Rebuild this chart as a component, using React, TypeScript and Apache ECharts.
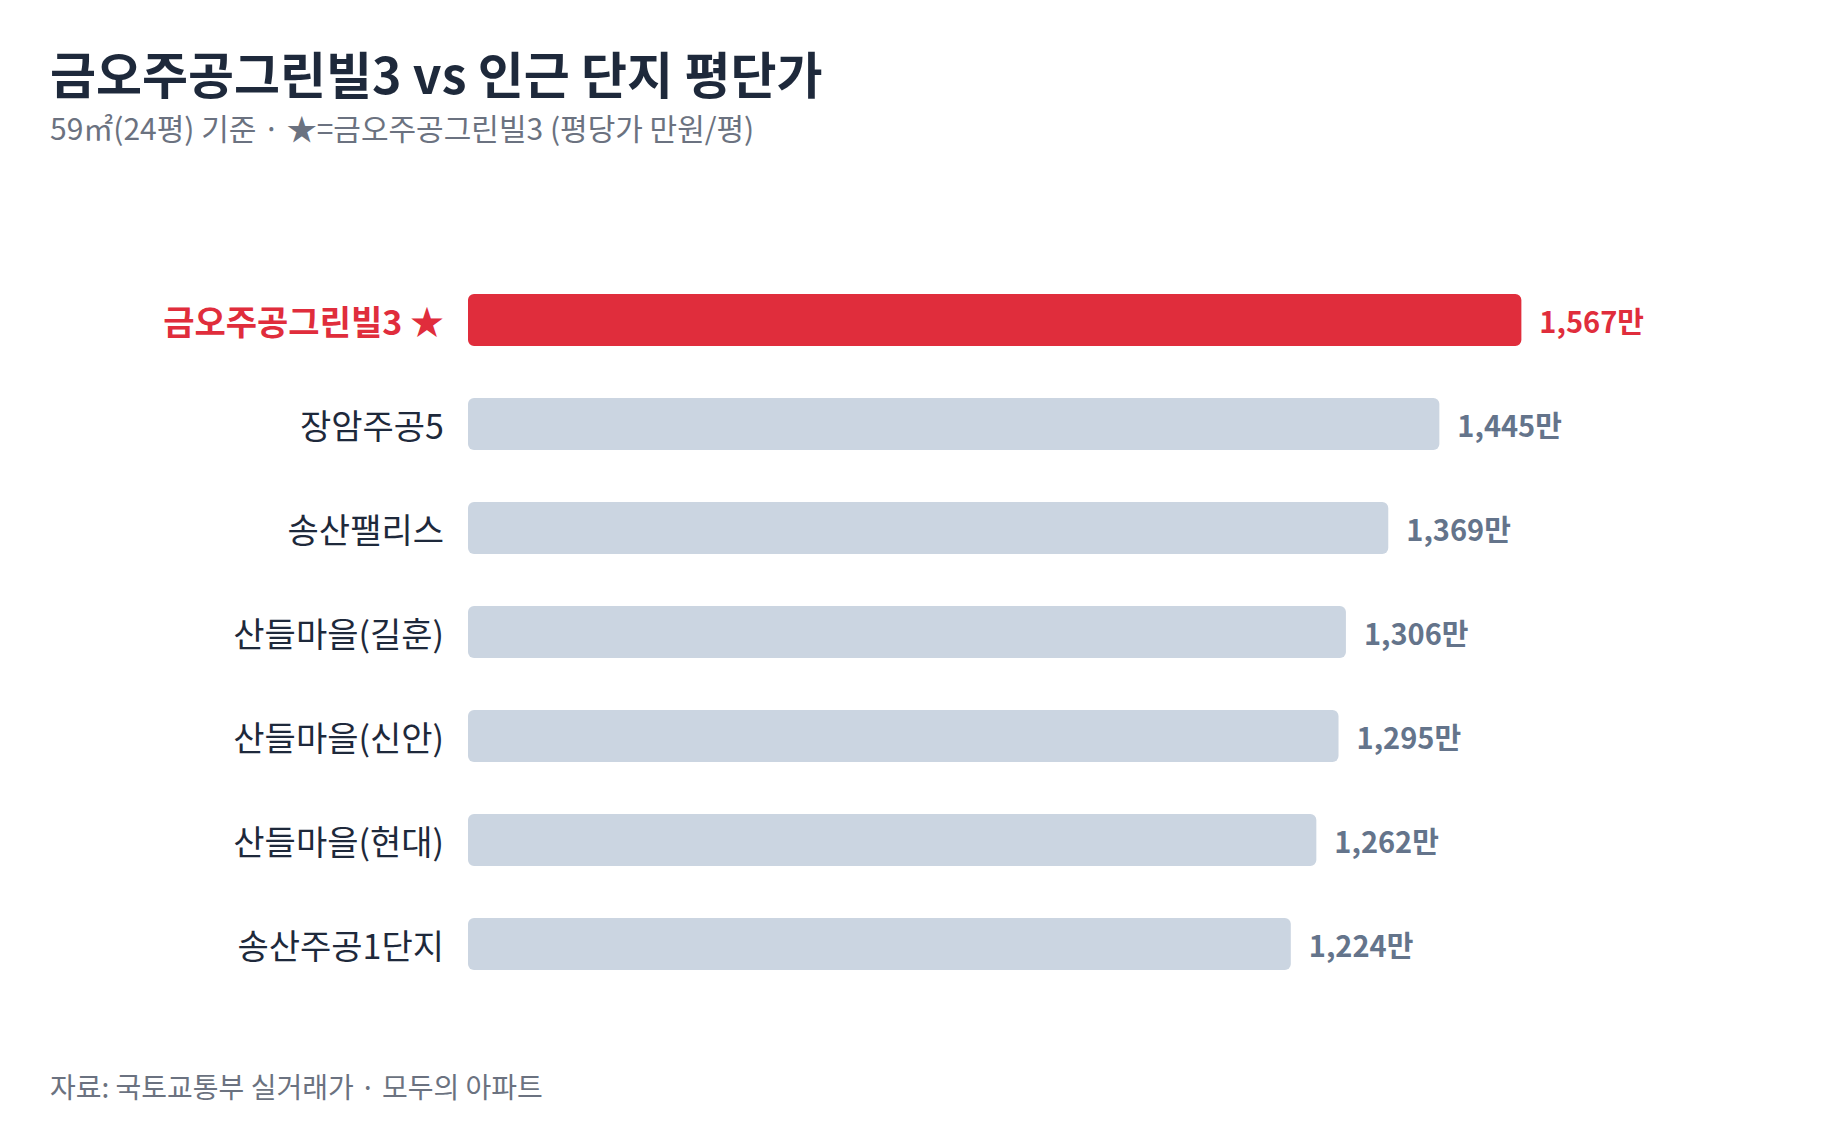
import React, { useEffect, useRef } from 'react';
import * as echarts from 'echarts';

// 단지명 (위에서 아래 순서)
const complexes = [
  '금오주공그린빌3 ★',
  '장암주공5',
  '송산팰리스',
  '산들마을(길훈)',
  '산들마을(신안)',
  '산들마을(현대)',
  '송산주공1단지',
];

// 평당가 (만원/평)
const pricePerPyeong = [1567, 1445, 1369, 1306, 1295, 1262, 1224];

const highlightIndex = 0;

const FONT = '"Noto Sans CJK KR", "Noto Sans", sans-serif';
const RED = '#e02d3c';
const GRAY_BAR = '#cbd5e1';
const DARK = '#1e293b';
const MUTED = '#6b7280';
const VALUE_GRAY = '#64748b';

export default function App() {
  const chartRef = useRef<HTMLDivElement>(null);

  useEffect(() => {
    if (!chartRef.current) return;
    const chart = echarts.init(chartRef.current, undefined, { renderer: 'svg' });

    const option: echarts.EChartsOption = {
      animation: false,
      backgroundColor: '#ffffff',
      textStyle: { fontFamily: FONT },
      graphic: [
        {
          type: 'text',
          x: 50,
          y: 72,
          style: {
            text: '금오주공그린빌3 vs 인근 단지 평단가',
            fontSize: 50,
            fontWeight: 'bold',
            fontFamily: FONT,
            fill: DARK,
            align: 'left',
            verticalAlign: 'middle',
          },
        },
        {
          type: 'text',
          x: 50,
          y: 127,
          style: {
            text: '59㎡(24평) 기준 · ★=금오주공그린빌3 (평당가 만원/평)',
            fontSize: 30,
            fontFamily: FONT,
            fill: MUTED,
            align: 'left',
            verticalAlign: 'middle',
          },
        },
        {
          type: 'text',
          x: 50,
          y: 1086,
          style: {
            text: '자료: 국토교통부 실거래가 · 모두의 아파트',
            fontSize: 28,
            fontFamily: FONT,
            fill: MUTED,
            align: 'left',
            verticalAlign: 'middle',
          },
        },
      ],
      grid: {
        left: 468,
        top: 268,
        width: 1210,
        height: 728,
        containLabel: false,
      },
      xAxis: {
        type: 'value',
        min: 0,
        max: 1800,
        show: false,
      },
      yAxis: {
        type: 'category',
        data: complexes,
        inverse: true,
        axisLine: { show: false },
        axisTick: { show: false },
        splitLine: { show: false },
        axisLabel: {
          margin: 24,
          formatter: (value: string, idx: number) =>
            idx === highlightIndex ? `{hi|${value}}` : `{norm|${value}}`,
          rich: {
            hi: {
              fontSize: 34,
              fontWeight: 'bold',
              color: RED,
              fontFamily: FONT,
            },
            norm: {
              fontSize: 34,
              color: DARK,
              fontFamily: FONT,
            },
          },
        },
      },
      series: [
        {
          type: 'bar',
          barWidth: 52,
          data: pricePerPyeong.map((v, i) => ({
            value: v,
            itemStyle: {
              color: i === highlightIndex ? RED : GRAY_BAR,
              borderRadius: 6,
            },
            label: {
              color: i === highlightIndex ? RED : VALUE_GRAY,
            },
          })),
          label: {
            show: true,
            position: 'right',
            distance: 18,
            fontSize: 29,
            fontWeight: 'bold',
            fontFamily: FONT,
            formatter: (p: any) => `${Number(p.value).toLocaleString('en-US')}만`,
          },
        },
      ],
    };

    chart.setOption(option);

    return () => {
      chart.dispose();
    };
  }, []);

  return (
    <div
      ref={chartRef}
      style={{ position: 'fixed', left: 0, top: 0, width: 1840, height: 1126 }}
    />
  );
}
